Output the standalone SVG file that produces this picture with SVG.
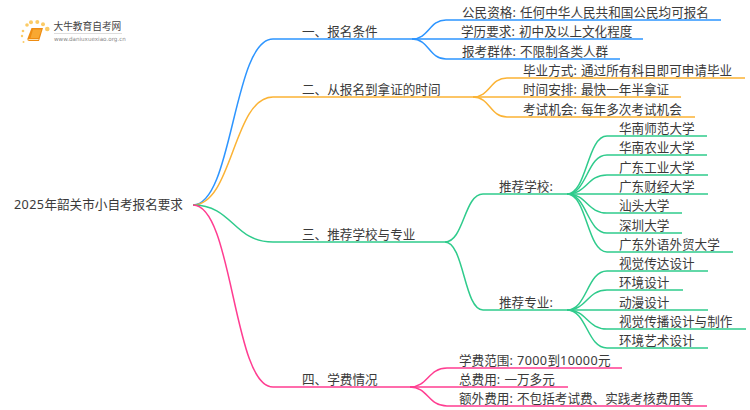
<svg xmlns="http://www.w3.org/2000/svg" width="750" height="410" viewBox="0 0 750 410">
<style>
text{font-family:"Noto Sans","Noto Sans CJK SC",sans-serif;font-size:12.6px;fill:#3a3a3a;word-spacing:1px}
.d{letter-spacing:.4px}
.c{fill:none;stroke-width:1.5}
.b{stroke:#2d95ff}.o{stroke:#fbb335}.g{stroke:#2fcb8c}.p{stroke:#ff3d91}
text.logo{font-family:"Noto Sans CJK SC",sans-serif;font-size:9.7px;fill:#444}
text.url{font-family:"DejaVu Sans",sans-serif;font-size:5.6px;fill:#888}
</style>
<rect width="750" height="410" fill="#fff"/>
<g id="logo">
<g fill="#fbcb66"><circle cx="27" cy="25" r="1.800"/><circle cx="31" cy="22.300" r="2"/><circle cx="37.300" cy="22" r="2"/><circle cx="43" cy="24.200" r="2"/><circle cx="47.300" cy="29" r="2.300"/><circle cx="23" cy="31" r="1.300"/><circle cx="22" cy="36" r="1.200"/><circle cx="23.500" cy="42" r="1"/></g>
<path d="M31.500 28H43L39 41H29.500Q27 41 27.500 38.500Z" fill="#ee8c12"/>
<path d="M33 29.500H41.500L38.500 38H30.500Z" fill="#f8a832"/>
<path d="M28.500 39.500H38.500" stroke="#fbe0b0" stroke-width="1"/>
<text class="logo" x="53.500" y="30">大牛教育自考网</text>
<path d="M54 33.500H122" stroke="#ddd" stroke-width="1"/>
<text class="url" x="54" y="40.500">www.daniuxuexiao.org.cn</text>
</g>
<g id="connectors">
<g class="c b">
<path d="M193 205C233 205 233 39 273 39H412"/>
<path d="M412 39C429 39 429 20 446 20H721"/><path d="M412 39H643"/><path d="M412 39C429 39 429 59 446 59H620"/>
</g>
<g class="c o">
<path d="M193 205C233 205 233 97 273 97H473"/>
<path d="M473 97C490 97 490 78 507 78H745"/><path d="M473 97H681"/><path d="M473 97C490 97 490 117 507 117H695"/>
</g>
<g class="c g">
<path d="M193 205C233 205 233 242 273 242H445"/>
<path d="M445 242C464 242 464 194 483 194H567"/><path d="M445 242C464 242 464 310 483 310H567"/>
<path d="M567 194C587 194 587 136 607 136H707"/><path d="M567 194C587 194 587 155 607 155H707"/><path d="M567 194C587 194 587 175 607 175H708"/><path d="M567 194H708"/><path d="M567 194C587 194 587 213 607 213H682"/><path d="M567 194C587 194 587 233 607 233H682"/><path d="M567 194C587 194 587 252 607 252H733"/>
<path d="M567 310C587 310 587 271 607 271H708"/><path d="M567 310C587 310 587 290 607 290H683"/><path d="M567 310H708"/><path d="M567 310C587 310 587 329 607 329H746"/><path d="M567 310C587 310 587 348 607 348H708"/>
</g>
<g class="c p">
<path d="M193 205C233 205 233 387 273 387H410"/>
<path d="M410 387C428 387 428 368 447 368H622"/><path d="M410 387H568"/><path d="M410 387C428 387 428 406 447 406H707"/>
</g>
</g>
<g id="root"><text x="14" y="209"><tspan class="d">2025</tspan>年韶关市小自考报名要求</text></g>
<g id="n1"><text x="302" y="36">一、报名条件</text></g>
<g id="n11"><text x="462" y="17">公民资格: 任何中华人民共和国公民均可报名</text></g>
<g id="n12"><text x="461" y="36">学历要求: 初中及以上文化程度</text></g>
<g id="n13"><text x="462" y="56">报考群体: 不限制各类人群</text></g>
<g id="n2"><text x="302" y="94">二、从报名到拿证的时间</text></g>
<g id="n21"><text x="523" y="75">毕业方式: 通过所有科目即可申请毕业</text></g>
<g id="n22"><text x="523" y="94">时间安排: 最快一年半拿证</text></g>
<g id="n23"><text x="523" y="114">考试机会: 每年多次考试机会</text></g>
<g id="n3"><text x="302" y="239">三、推荐学校与专业</text></g>
<g id="n31"><text x="499" y="191">推荐学校:</text></g>
<g id="n311"><text x="619" y="133">华南师范大学</text></g>
<g id="n312"><text x="619" y="152">华南农业大学</text></g>
<g id="n313"><text x="619" y="172">广东工业大学</text></g>
<g id="n314"><text x="619" y="191">广东财经大学</text></g>
<g id="n315"><text x="619" y="210">汕头大学</text></g>
<g id="n316"><text x="619" y="230">深圳大学</text></g>
<g id="n317"><text x="619" y="249">广东外语外贸大学</text></g>
<g id="n32"><text x="499" y="307">推荐专业:</text></g>
<g id="n321"><text x="619" y="268">视觉传达设计</text></g>
<g id="n322"><text x="619" y="287">环境设计</text></g>
<g id="n323"><text x="619" y="307">动漫设计</text></g>
<g id="n324"><text x="619" y="326">视觉传播设计与制作</text></g>
<g id="n325"><text x="619" y="345">环境艺术设计</text></g>
<g id="n4"><text x="302" y="384">四、学费情况</text></g>
<g id="n41"><text x="459" y="365">学费范围: <tspan class="d">7000</tspan>到<tspan class="d">10000</tspan>元</text></g>
<g id="n42"><text x="459" y="384">总费用: 一万多元</text></g>
<g id="n43"><text x="459" y="403">额外费用: 不包括考试费、实践考核费用等</text></g>
</svg>
